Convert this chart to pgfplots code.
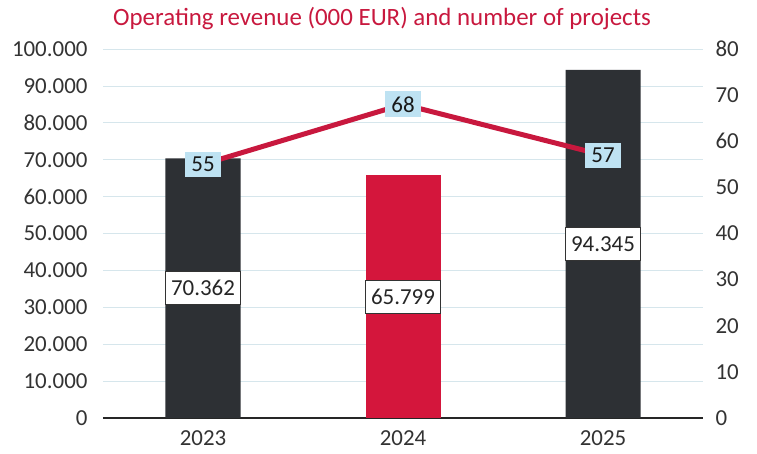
\documentclass[border=0pt]{standalone}
\usepackage{pgfplots}
\pgfplotsset{compat=1.18}
\usepackage{fontspec}
\setmainfont{Carlito}
\definecolor{crim}{RGB}{200,24,62}
\definecolor{barred}{RGB}{212,22,60}
\definecolor{dark}{RGB}{45,48,52}
\definecolor{lblue}{RGB}{190,226,242}
\definecolor{gridc}{RGB}{214,230,236}
\begin{document}
\begin{tikzpicture}
\path[use as bounding box] (-103bp,-36bp) rectangle (654bp,418bp);
\begin{axis}[
  scale only axis, width=600bp, height=369bp,
  xmin=-0.5, xmax=2.5, ymin=0, ymax=100000,
  xtick={0,1,2}, xticklabels={2023,2024,2025},
  ytick={0,10000,20000,30000,40000,50000,60000,70000,80000,90000,100000},
  axis x line*=bottom, axis y line*=left,
  y axis line style={draw=none},
  x axis line style={draw=black!85, line width=1.2bp, -},
  major tick length=0pt,
  ymajorgrids, grid style={gridc, line width=0.7bp},
  scaled y ticks=false,
  /pgf/number format/fixed,
  /pgf/number format/precision=0,
  /pgf/number format/assume math mode=true,
  /pgf/number format/1000 sep={.},
  tick label style={font=\fontsize{23}{27}\selectfont, text=black!80},
  yticklabel style={xshift=-12bp},
  xticklabel style={yshift=-9bp},
  clip=false,
]
\addplot[ybar, bar width=75bp, bar shift=0pt, fill=dark, draw=none] coordinates {(0,70362) (2,94345)};
\addplot[ybar, bar width=75bp, bar shift=0pt, fill=barred, draw=none] coordinates {(1,65799)};
\addplot[draw=none, mark=none, point meta=explicit symbolic,
  nodes near coords,
  nodes near coords style={anchor=center, fill=white, draw=black!80, line width=0.6bp,
    minimum width=75bp, minimum height=33bp, inner sep=0pt,
    font=\fontsize{23}{27}\selectfont, text=black!85}]
  coordinates {(0,35181)[70.362] (1,32900)[65.799] (2,47172)[94.345]};
\end{axis}
\begin{axis}[
  scale only axis, width=600bp, height=369bp,
  xmin=-0.5, xmax=2.5, ymin=0, ymax=80,
  ytick={0,10,...,80},
  axis y line*=right, axis x line=none,
  y axis line style={draw=none},
  major tick length=0pt,
  tick label style={font=\fontsize{23}{27}\selectfont, text=black!80},
  /pgf/number format/assume math mode=true,
  yticklabel style={xshift=9bp},
  clip=false,
]
\addplot[crim, line width=5bp, mark=none,
  nodes near coords, point meta=y,
  nodes near coords style={anchor=center, fill=lblue, inner xsep=6bp, inner ysep=5bp,
    font=\fontsize{23}{27}\selectfont, text=black!90,
    /pgf/number format/assume math mode=true}]
  coordinates {(0,55) (1,68) (2,57)};
\end{axis}
\node[text=crim, font=\fontsize{25}{30}\selectfont] at (279bp,399bp) {Operating revenue (000 EUR) and number of projects};
\end{tikzpicture}
\end{document}
